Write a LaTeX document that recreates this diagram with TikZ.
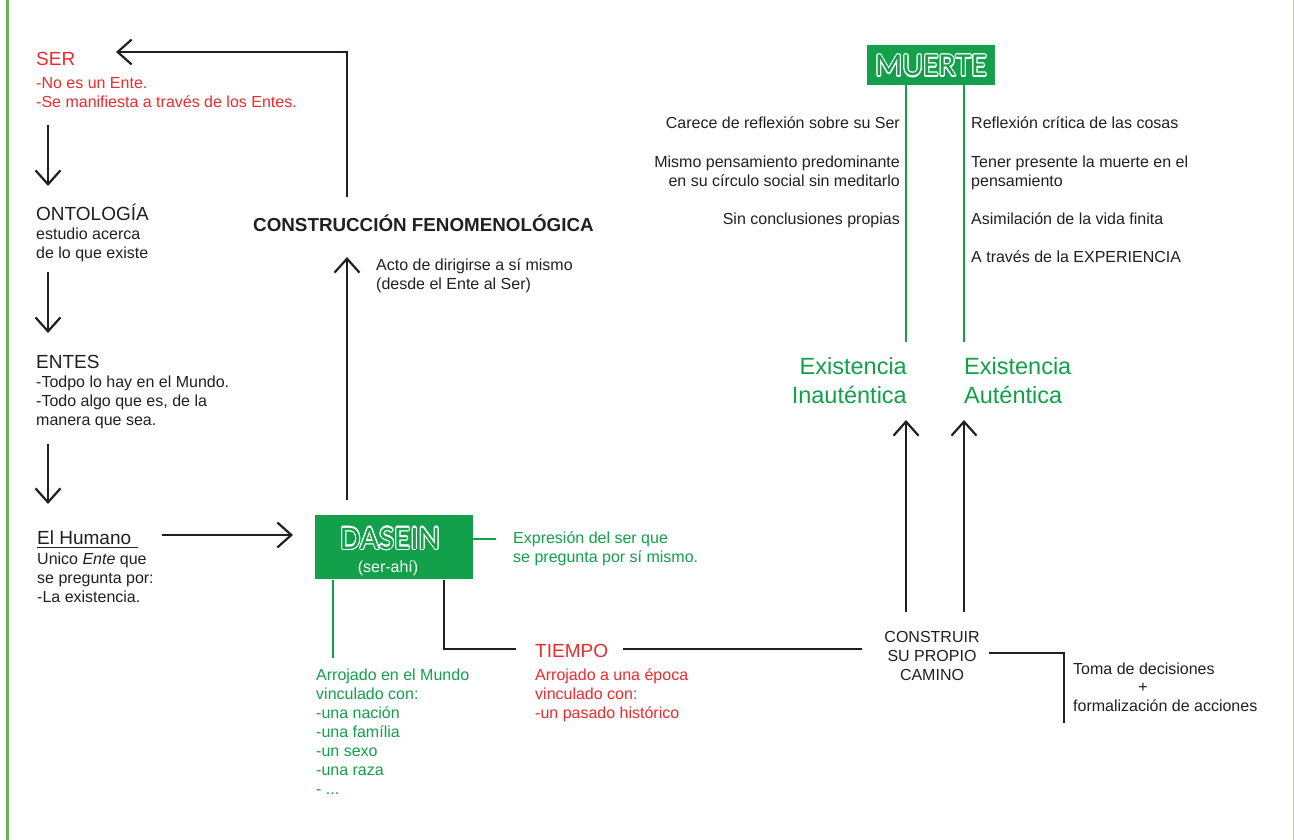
\documentclass[tikz,border=0pt]{standalone}
\usepackage{fontspec}
\setmainfont{Liberation Sans}
\newfontfamily\dfont{Carlito}
\usepackage{contour}
\contourlength{1.1pt}
\usetikzlibrary{arrows.meta}
\definecolor{ink}{HTML}{231F20}
\definecolor{rd}{HTML}{EE2A2E}
\definecolor{gr}{HTML}{12A04A}
\definecolor{bord}{HTML}{6DB254}
\definecolor{bord2}{HTML}{B9D9AC}
\begin{document}
\begin{tikzpicture}[x=1pt,y=-1pt,
  txt/.style={inner sep=0pt, anchor=base west, align=left, font=\fontsize{16}{19}\selectfont, text=ink},
  rtxt/.style={txt, anchor=base east, align=right},
  head/.style={inner sep=0pt, anchor=base west, font=\fontsize{19}{22}\selectfont, text=ink},
  big/.style={txt, font=\fontsize{23.5}{29}\selectfont, text=gr},
  box/.style={fill=gr, inner sep=0pt},
  ln/.style={line width=2.2pt, draw=ink},
  gln/.style={line width=2.5pt, draw=gr},
  arr/.style={ln, -{Straight Barb[length=14pt,width=25pt]}}]
% note: multi-line nodes are anchored at the baseline of their LAST line
\useasboundingbox (0,0) rectangle (1294,840);
\fill[white] (0,0) rectangle (1294,840);
\draw[bord, line width=2.5pt] (7.5,0) -- (7.5,840);
\draw[bord2, line width=1pt] (1293.5,0) -- (1293.5,840);

% left column
\node[head, text=rd] (ser) at (36,66) {SER};
\node[txt, text=rd] (serd) at (36,108) {-No es un Ente.\\-Se manifiesta a través de los Entes.};
\node[head] (onto) at (36,220) {ONTOLOGÍA};
\node[txt] (ontod) at (36,258) {estudio acerca\\de lo que existe};
\node[head] (entes) at (36,368) {ENTES};
\node[txt] (entesd) at (36,425) {-Todpo lo hay en el Mundo.\\-Todo algo que es, de la\\manera que sea.};
\node[head] (hum) at (37,544) {El Humano};
\draw[ink, line width=1.3pt] (hum.base west) ++(0,3.5) -- ++(101,0);
\node[txt] (humd) at (37,602) {Unico \textit{Ente} que\\se pregunta por:\\-La existencia.};

\coordinate (a1s) at (48,125); \coordinate (a1e) at (48,186);
\coordinate (a2s) at (48,272); \coordinate (a2e) at (48,333);
\coordinate (a3s) at (48,444); \coordinate (a3e) at (48,504);
\draw[arr] (a1s) -- (a1e);
\draw[arr] (a2s) -- (a2e);
\draw[arr] (a3s) -- (a3e);

% construccion
\node[inner sep=0pt, anchor=base west, font=\bfseries\fontsize{18.8}{22}\selectfont, text=ink] (con) at (253,232) {CONSTRUCCIÓN FENOMENOLÓGICA};
\node[txt] (acto) at (376,289) {Acto de dirigirse a sí mismo\\(desde el Ente al Ser)};
\coordinate (ctop) at (347,197); \coordinate (serin) at (116,52);
\draw[arr] (ctop) |- (serin);

% dasein
\node[box, minimum width=158pt, minimum height=64pt] (dbox) at (394,547) {};
\node[inner sep=0pt, anchor=base, font=\dfont\fontsize{33}{33}\selectfont, text=gr] (dtxt) at (390,549) {\contour{white}{DASEIN}};
\node[inner sep=0pt, anchor=base, font=\fontsize{16}{19}\selectfont, text=white] (dsub) at (388,572) {(ser-ahí)};
\coordinate (hout) at (162,535); \coordinate (din) at (293,535);
\draw[arr] (hout) -- (din);
\coordinate (dup) at (347,500); \coordinate (cin) at (347,257);
\draw[arr] (dup) -- (cin);

\node[txt, text=gr] (expr) at (513,562) {Expresión del ser que\\se pregunta por sí mismo.};
\coordinate (de1) at (473,539); \coordinate (de2) at (496,539);
\draw[gln] (de1) -- (de2);

\node[txt, text=gr] (arro) at (316,794) {Arrojado en el Mundo\\vinculado con:\\-una nación\\-una família\\-un sexo\\-una raza\\- ...};
\coordinate (dg1) at (333,580); \coordinate (dg2) at (333,658);
\draw[gln] (dg1) -- (dg2);

\node[head, text=rd] (tiempo) at (535,657) {TIEMPO};
\node[txt, text=rd] (tiempod) at (535,718) {Arrojado a una época\\vinculado con:\\-un pasado histórico};
\coordinate (dt1) at (444,580); \coordinate (dt2) at (516,649);
\draw[ln] (dt1) |- (dt2);
\coordinate (tc1) at (623,649); \coordinate (tc2) at (862,649);
\draw[ln] (tc1) -- (tc2);

% camino
\node[txt, anchor=base, align=center] (camino) at (932,680) {CONSTRUIR\\SU PROPIO\\CAMINO};
\coordinate (ct1) at (989,653); \coordinate (ct2) at (1064,723);
\draw[ln] (ct1) -| (ct2);
\node[txt] (toma) at (1073,674) {Toma de decisiones};
\node[txt, anchor=base] (plus) at (1143,692) {+};
\node[txt] (forma) at (1073,711) {formalización de acciones};

\coordinate (u1s) at (906,612); \coordinate (u1e) at (906,420);
\coordinate (u2s) at (964,612); \coordinate (u2e) at (964,420);
\draw[arr] (u1s) -- (u1e);
\draw[arr] (u2s) -- (u2e);

\node[big, anchor=base east, align=right] (inaut) at (907,403) {Existencia\\Inauténtica};
\node[big] (aut) at (964,403) {Existencia\\Auténtica};

% muerte
\node[box, minimum width=128pt, minimum height=40pt] (mbox) at (931,65) {};
\node[inner sep=0pt, anchor=base, font=\dfont\fontsize{32}{32}\selectfont, text=gr] (mtxt) at (931,76) {\contour{white}{MUERTE}};
\coordinate (m1s) at (906,85); \coordinate (m1e) at (906,342);
\coordinate (m2s) at (964,85); \coordinate (m2e) at (964,342);
\draw[gln] (m1s) -- (m1e);
\draw[gln] (m2s) -- (m2e);

\node[rtxt] (l1) at (900,129) {Carece de reflexión sobre su Ser};
\node[rtxt] (l2) at (900,186) {Mismo pensamiento predominante\\en su círculo social sin meditarlo};
\node[rtxt] (l3) at (900,224) {Sin conclusiones propias};
\node[txt] (r1) at (971,129) {Reflexión crítica de las cosas};
\node[txt] (r2) at (971,186) {Tener presente la muerte en el\\pensamiento};
\node[txt] (r3) at (971,224) {Asimilación de la vida finita};
\node[txt] (r4) at (971,262) {A través de la EXPERIENCIA};
\end{tikzpicture}
\end{document}
